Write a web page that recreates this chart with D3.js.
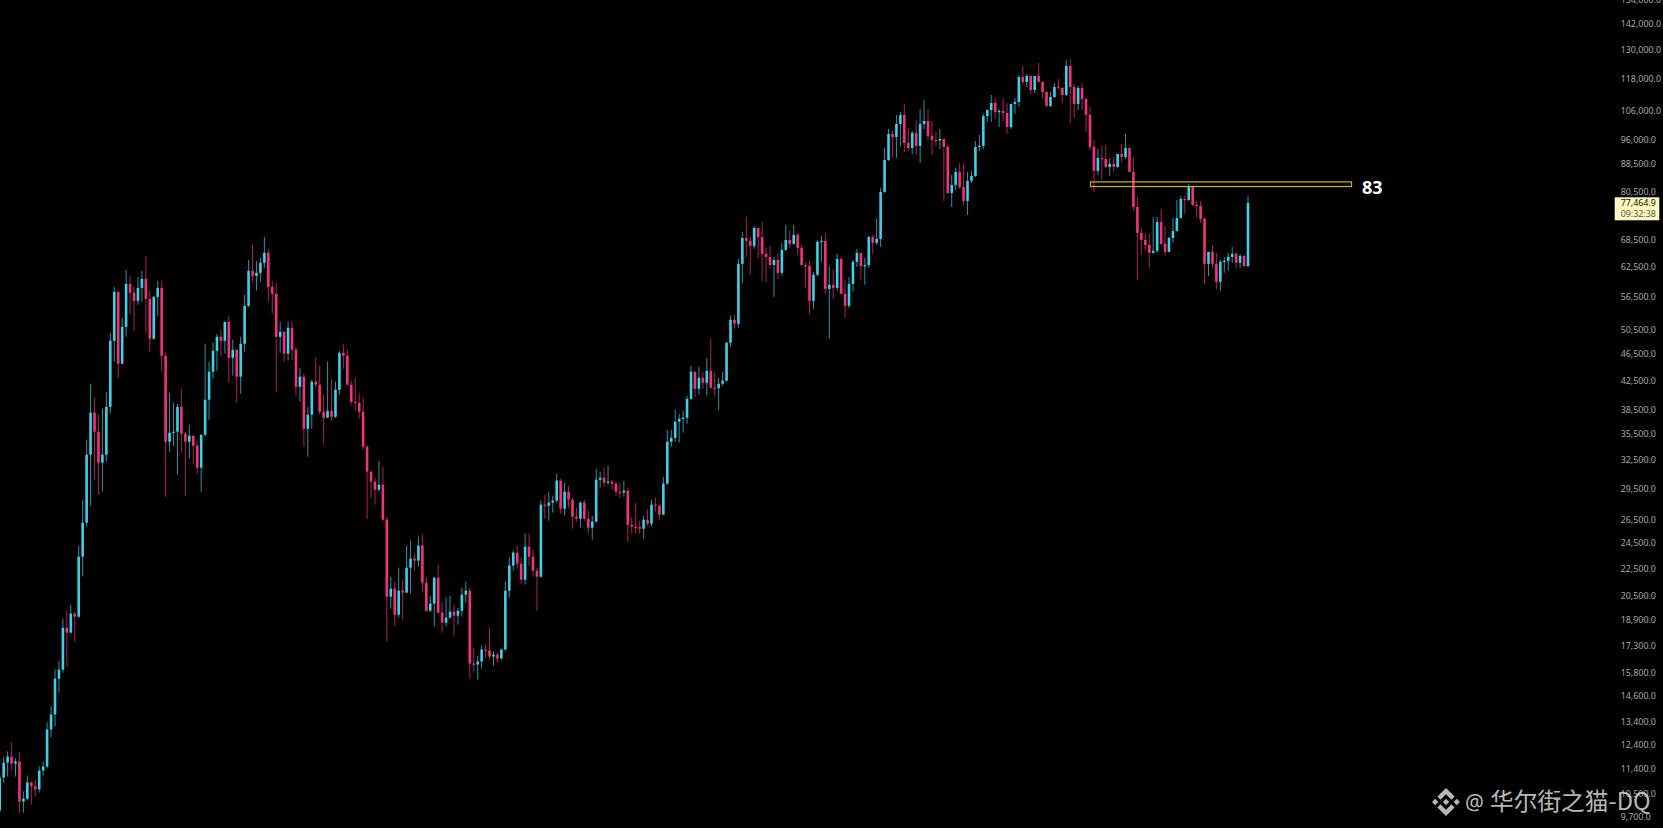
<!DOCTYPE html>
<html><head><meta charset="utf-8">
<script src="https://cdnjs.cloudflare.com/ajax/libs/d3/7.8.5/d3.min.js"></script>
<style>html,body{margin:0;padding:0;background:#000;overflow:hidden}svg{display:block}</style>
</head><body><svg id="c" width="1663" height="828"></svg>
<script>
const firstOpen = 9910;
const closes = [11072,11650,11890,11610,11690,10210,10310,10890,10750,10640,11340,11500,13030,13710,15480,15960,18390,18090,19290,19090,
23390,26250,33040,38090,35710,32160,33040,38850,48590,57350,44950,50920,58910,57160,55620,58110,59910,56000,48910,56370,
58110,46180,34520,35590,35710,38850,35470,34520,35230,34060,31610,35350,39790,43750,46960,49250,48590,51810,45860,47120,
43020,48100,54690,61560,60510,61150,63250,65430,58310,56960,49250,50090,46500,50750,47120,41580,43020,36070,37830,42300,
41870,38210,37440,38340,37570,41160,46650,46180,41870,39530,39390,38210,33950,31190,30160,29350,29840,26510,20430,20990,
19220,20850,20710,22540,23240,23080,24290,21420,19480,19960,21780,19350,18710,19030,19420,19160,19480,20570,20850,16290,
16240,16400,17080,17020,16680,16790,16570,17080,20850,22700,23720,22850,21640,24200,23390,22310,21860,27900,27800,28090,
28280,30260,27520,29150,28370,26770,26600,28090,26600,25800,26340,30360,30560,30060,30160,29960,29150,29060,29250,26070,
25890,25850,25720,26510,26160,27900,27800,26970,29960,34520,34980,36940,37320,37440,39920,43750,41300,42860,42160,43890,
41440,41370,42010,42440,48260,52160,51460,63040,68810,68130,66970,71180,69040,65210,64530,62780,63890,61150,66090,68360,
67450,69530,66530,62780,62570,55620,60740,67900,68130,57920,58710,58110,64100,56960,54690,58910,63460,65430,62570,62780,
69040,67680,68590,80420,89610,97860,96840,101220,104350,94920,93320,98190,93960,101220,102250,97200,95880,95720,96200,93640,
80150,82360,86050,81770,78010,83470,84900,93640,93960,103960,106120,108680,105410,105770,105060,100170,108310,109040,118630,116680,
119070,113550,119070,116680,112790,107580,110900,114690,114310,111660,123170,114690,108310,114310,110130,104350,93640,86340,90210,89910,
87520,88420,87520,91450,90530,93320,86050,76420,70000,68360,67230,65430,65870,72660,67450,65650,68810,70480,73640,78530,
78270,81880,76970,76710,73390,63040,65650,63040,59310,63460,63680,64530,65210,63250,64770,62570,77464.9];
const highs = [11190,11890,12100,12470,11810,12060,10570,11150,10930,11000,11500,11690,13350,14120,15960,16450,18960,19480,19880,19420,
24290,28370,34750,42010,40050,37830,38600,40890,49920,58310,57350,52510,61770,60510,58310,60310,61560,64740,57540,56560,
59510,59510,46650,40750,39390,39260,41300,35710,36570,35230,34640,35350,48100,45260,48260,49750,50420,51810,52880,48750,
47280,49250,56740,63890,67190,63680,64320,69040,66310,59510,59110,51810,50090,51810,51990,47610,44330,43460,38850,42580,
45860,44650,40480,45260,42580,42300,46960,48100,47120,42440,42860,40750,40050,34180,31300,30560,32370,31710,26770,21860,
21500,22540,21640,24290,24700,23640,25030,25200,21860,20500,21860,22760,20090,20370,20500,19880,19680,21060,21500,21060,
17190,16730,17320,17370,18390,16970,16910,17140,21500,23390,23880,24290,23390,25290,25290,23960,22540,28280,28860,29150,
28760,30980,30460,30060,29740,28560,27610,28180,28370,27340,26880,31500,31190,31610,31830,30360,30060,30060,30260,29550,
26770,28090,26420,26880,27430,28370,28560,27900,30660,35950,35950,38470,37960,38340,40340,44650,43750,44490,43750,45860,
48910,43600,42860,43750,48430,52880,53050,64100,70240,73880,69040,71660,71180,72660,66750,66970,64530,65430,67680,71930,
70480,71930,70000,67230,63250,63680,61350,68360,69290,70000,62570,61770,65210,64320,59710,60310,63890,66310,65430,64320,
69290,69530,73640,81500,93310,99510,98850,104350,105410,108310,99840,98850,102590,106470,109770,106470,102250,98520,99510,96200,
94280,85190,87230,88700,88420,86050,86340,95560,97530,104700,106470,111660,110500,106470,110500,108680,108310,110500,119480,123170,
119880,119480,119070,124430,117070,113170,112790,116290,117850,114690,125680,126100,115900,115100,116290,110500,107220,95880,93000,93960,
94280,90210,90530,91450,94600,97860,93320,90530,79080,71180,70000,69770,73880,73880,75910,71650,69040,73640,78270,79350,
79350,82640,81880,78010,78010,73880,65650,67230,65430,63890,64530,65430,66750,65650,65210,64990,79350];
const lows = [9780,10890,11110,11380,11110,9800,9840,10250,10110,10390,10530,11150,11420,12690,13170,14770,15800,16120,18030,17550,
19030,21870,25890,27800,30360,28860,29150,32260,37960,45260,42860,44950,49250,53230,50250,54880,55440,49920,46810,48750,
52880,43750,28650,33380,34060,30880,33260,28750,32590,32050,30980,29150,35110,37190,42720,43890,46180,46500,42160,43160,
39390,40610,46810,54490,59310,57540,59310,62180,55440,53230,40890,46650,45260,45410,45560,40340,39530,33950,32800,36070,
41440,37830,34290,37440,37070,37440,40480,44190,41730,39130,38340,37320,33600,26600,28560,27890,29150,26420,17550,19620,
18520,19030,18900,20710,20640,22310,22620,20710,19420,19420,18460,19290,18090,18460,18960,17910,18580,19090,20030,15480,
15800,15430,16010,16620,16510,16180,16350,16510,17020,20370,22310,22470,21350,21280,22700,21860,19480,21780,26600,26420,
27150,28090,27060,26880,27610,25720,26340,25800,26420,25290,24780,26250,29550,29650,29840,29350,28760,28560,28650,24620,
25290,25290,25290,24860,25970,25890,27250,26510,26970,29840,33950,34520,34410,35590,36690,39790,40190,40480,41300,40340,
41300,40190,38470,41730,42300,47610,50590,50750,59110,64530,60740,66310,64320,59510,59310,62180,56370,59910,60510,65870,
66530,67230,64990,62780,58110,53230,54130,60510,63460,56960,48910,56000,57540,56960,52530,54310,57350,62400,59710,58710,
62180,65210,67230,66750,80150,89310,90530,90220,93960,92070,92380,91450,91150,88720,99510,95880,91150,93960,93000,78010,
79880,76420,80960,81230,76970,74400,82910,84610,92380,93000,101910,101910,102930,100170,102250,97860,99510,104700,107220,115500,
114690,112030,112410,116680,110500,107220,107220,110500,113930,108680,111290,101570,103270,106120,106120,98520,92690,80420,85190,83750,
87230,84900,86050,87230,89010,89910,86050,75410,59710,64990,66090,62180,65210,65430,67230,64770,65650,67680,70240,73390,
74650,78010,76710,73880,72420,58910,60510,62180,57920,57540,61150,61560,63250,62180,62180,62400,62400];

const yTicks = [154000,142000,130000,118000,106000,96000,88500,80500,68500,62500,56500,50500,46500,42500,38500,35500,32500,29500,26500,24500,22500,20500,18900,17300,15800,14600,13400,12400,11400,10500,9700];
const zoneTop = 83190, zoneBottom = 81900;
const zoneLabel = "83";
const lastPrice = 77464.9;
const countdown = "09:32:38";
const watermark = "华尔街之猫-DQ";

const UP = "#3fd0e8", DOWN = "#f2327a";
const svg = d3.select("#c");
const idx = d3.range(closes.length);
const opens = idx.map(i => i === 0 ? firstOpen : closes[i-1]);
const x = d3.scaleLinear().domain([0, closes.length-1]).range([-0.3, 1248]);
const y = d3.scaleLog().domain([154000, 9700]).range([0, 816.7]);
const color = i => closes[i] >= opens[i] ? UP : DOWN;

const g = svg.append("g");
g.selectAll("rect.w").data(idx).join("rect").attr("class","w")
  .attr("x", i => x(i)-0.5).attr("width", 1)
  .attr("y", i => y(highs[i])).attr("height", i => Math.max(1, y(lows[i])-y(highs[i])))
  .attr("fill", color).attr("fill-opacity", 0.7);
g.selectAll("rect.b").data(idx).join("rect").attr("class","b")
  .attr("x", i => x(i)-1.3).attr("width", 2.6)
  .attr("y", i => Math.min(y(opens[i]), y(closes[i])))
  .attr("height", i => Math.max(1.2, Math.abs(y(opens[i])-y(closes[i]))))
  .attr("fill", color);

// zone rectangle and its label
const zx = d3.scaleLinear().domain([0,1]).range([1090.5, 1351.5]);
svg.append("rect").attr("x", zx(0)).attr("width", zx(1)-zx(0))
  .attr("y", y(zoneTop)).attr("height", y(zoneBottom)-y(zoneTop))
  .attr("fill","none").attr("stroke","#c8b41e").attr("stroke-width",1.2);
svg.append("text").attr("x",1362).attr("y",193.6).text(zoneLabel)
  .attr("font-family","'Open Sans','Noto Sans',sans-serif").attr("font-weight",700)
  .attr("font-size",18).attr("fill","#fff");

// price axis
const axis = d3.axisRight(y).tickValues(yTicks).tickSize(0).tickPadding(0).tickFormat(d3.format(",.1f"));
const ag = svg.append("g").attr("transform","translate(1620.7,0)").call(axis);
ag.select(".domain").remove();
ag.selectAll("text").attr("fill","#a8a8a8").attr("font-size",8.9)
  .attr("font-family","'Noto Sans',sans-serif").style("font-size","8.9px");

// last price box
svg.append("rect").attr("x",1614.7).attr("y",197.3).attr("width",44.6).attr("height",23).attr("fill","#fdf8c0");
svg.append("text").attr("x",1620.7).attr("y",y(lastPrice)+3.2).text(d3.format(",.1f")(lastPrice))
  .attr("font-family","'Noto Sans',sans-serif").attr("font-size",8.9).attr("fill","#111108");
svg.append("text").attr("x",1620.7).attr("y",216.6).text(countdown)
  .attr("font-family","'Noto Sans',sans-serif").attr("font-size",8.9).attr("fill","#55554a");

// watermark
const wm = svg.append("g").attr("opacity",0.85);
wm.append("path").attr("transform","translate(1432,788) scale(0.221)").attr("fill","#d8d8d8")
  .attr("d","M38.73 53.2l24.59-24.58 24.6 24.6 14.3-14.31L63.32 0 24.43 38.9zM0 63.31l14.3-14.31 14.31 14.31-14.31 14.3zM38.73 73.41L63.32 97.99l24.6-24.6 14.31 14.29-.01.01L63.32 126.6 24.42 87.7l-.02-.02zM97.99 63.31l14.3-14.31 14.31 14.31-14.31 14.3zM77.83 63.3L63.32 48.78 52.59 59.51l-1.24 1.23-2.54 2.54 14.5 14.5 14.52-14.48z");
wm.append("text").attr("x",1465).attr("y",809.5).text("@")
  .attr("font-family","'Noto Sans',sans-serif").attr("font-size",21).attr("fill","#d8d8d8");
wm.append("text").attr("x",1490).attr("y",810).text(watermark)
  .attr("font-family","'Noto Sans CJK SC',sans-serif").attr("font-size",23.7).attr("font-weight",400).attr("fill","#d8d8d8");
</script></body></html>
